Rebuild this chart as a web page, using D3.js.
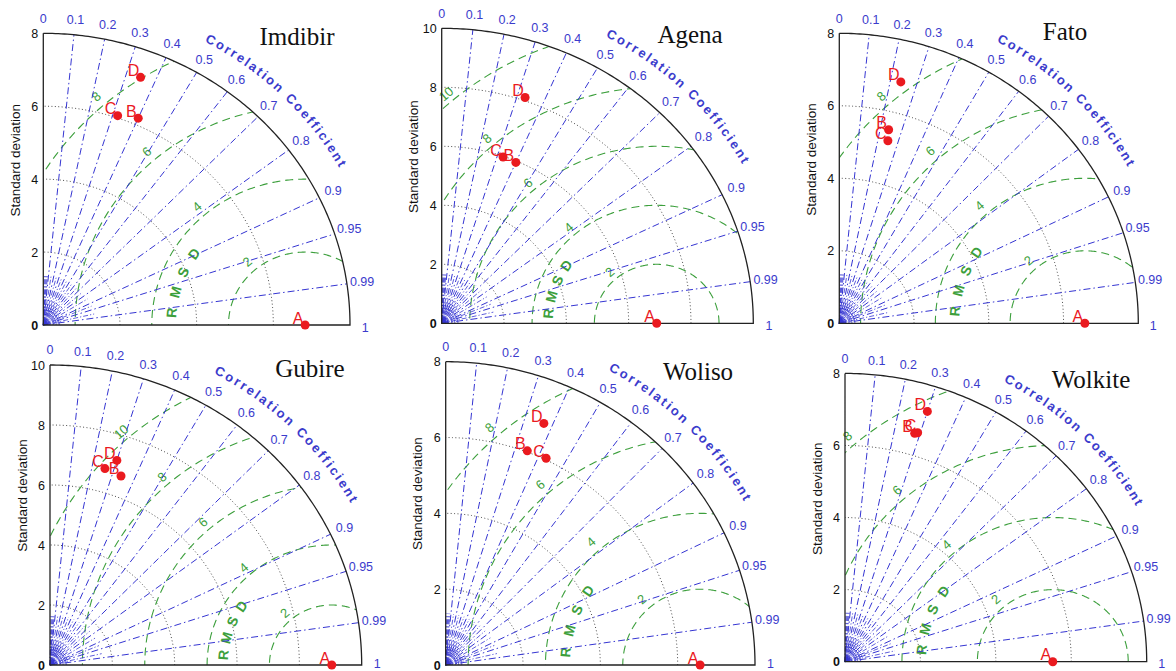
<!DOCTYPE html>
<html>
<head>
<meta charset="utf-8">
<script src="https://cdn.jsdelivr.net/npm/d3@7"></script>
<style>
  body { margin: 0; background: #fff; }
  svg { display: block; }
</style>
</head>
<body>
<svg id="chart" width="1176" height="671"></svg>
<script>
// ---- Data: Taylor diagram statistics per station ----
const stations = ["Imdibir", "Agena", "Fato", "Gubire", "Woliso", "Wolkite"];
const maxStd = [8, 10, 8, 10, 8, 8];
const stdTicks = [[0,2,4,6,8],[0,2,4,6,8,10],[0,2,4,6,8],[0,2,4,6,8,10],[0,2,4,6,8],[0,2,4,6,8]];
const rmsdTicks = [[2,4,6,8],[2,4,6,8,10],[2,4,6,8],[2,4,6,8,10],[2,4,6,8],[2,4,6,8]];
const corrTicks = [0, 0.1, 0.2, 0.3, 0.4, 0.5, 0.6, 0.7, 0.8, 0.9, 0.95, 0.99, 1];
const corrTickLabels = ["0","0.1","0.2","0.3","0.4","0.5","0.6","0.7","0.8","0.9","0.95","0.99","1"];
const seriesNames = ["A", "B", "C", "D"];

// A is the reference (correlation 1)
const stdA  = [6.83, 6.90, 6.57, 9.04, 6.58, 5.51];
const stdB  = [6.19, 5.95, 5.50, 6.70, 6.03, 6.60];
const corrB = [0.40, 0.40, 0.24, 0.34, 0.35, 0.28];
const stdC  = [6.06, 5.97, 5.20, 6.78, 6.04, 6.64];
const corrC = [0.32, 0.33, 0.25, 0.26, 0.43, 0.29];
const stdD  = [7.25, 8.11, 6.86, 7.15, 6.86, 7.28];
const corrD = [0.35, 0.33, 0.24, 0.30, 0.37, 0.30];

// ---- Layout of the six panels (origin, axis lengths, title anchor) ----
const frames = [
  { ox: 43.3,  oy: 325,   rx: 306.7, ry: 291.7, tx: 297,  ty: 45 },
  { ox: 441.7, oy: 323.3, rx: 311.6, ry: 295,   tx: 690,  ty: 43 },
  { ox: 839.3, oy: 323.3, rx: 299,   ry: 290,   tx: 1065, ty: 40 },
  { ox: 50,    oy: 665,   rx: 311.7, ry: 300,   tx: 310,  ty: 377 },
  { ox: 445.7, oy: 665,   rx: 309.3, ry: 303.3, tx: 698,  ty: 380 },
  { ox: 845,   oy: 661.7, rx: 301.7, ry: 288.3, tx: 1091, ty: 388 }
];

const C = {
  blue: "#3535d2",
  blueText: "#3b3bcc",
  green: "#3c9f3c",
  red: "#ea1a1f",
  dots: "#4a4a4a",
  frame: "#222"
};
const SANS = "Liberation Sans, Arial, sans-serif";

const svg = d3.select("#chart");
const defs = svg.append("defs");
const line = d3.line();
const deg = Math.PI / 180;

stations.forEach((name, i) => {
  const f = frames[i];
  const R = maxStd[i];
  const ref = stdA[i];
  const x = d3.scaleLinear().domain([0, R]).range([f.ox, f.ox + f.rx]);
  const y = d3.scaleLinear().domain([0, R]).range([f.oy, f.oy - f.ry]);
  const polar = (s, th) => [x(s * Math.cos(th)), y(s * Math.sin(th))];
  const arcPts = (s, a0, a1, n = 160) =>
    d3.range(n + 1).map(k => polar(s, a0 + (a1 - a0) * k / n));

  const g = svg.append("g").attr("class", "taylor");

  // clip region: the quarter disc of radius R
  const clipId = "clip" + i;
  defs.append("clipPath").attr("id", clipId)
    .append("path")
    .attr("d", line([[x(0), y(0)], ...arcPts(R, 0, Math.PI / 2)]) + "Z");

  // standard deviation arcs (dotted)
  stdTicks[i].filter(s => s > 0 && s < R).forEach(s => {
    g.append("path")
      .attr("d", line(arcPts(s, 0, Math.PI / 2)))
      .attr("fill", "none")
      .attr("stroke", C.dots)
      .attr("stroke-width", 1)
      .attr("stroke-dasharray", "1,2.4");
  });

  // centred RMS difference circles around the reference
  const rmsG = g.append("g").attr("clip-path", `url(#${clipId})`);
  rmsdTicks[i].forEach(r => {
    const pts = d3.range(241).map(k => {
      const t = Math.PI * k / 240;
      return [x(ref + r * Math.cos(t)), y(r * Math.sin(t))];
    });
    rmsG.append("path")
      .attr("d", line(pts))
      .attr("fill", "none")
      .attr("stroke", C.green)
      .attr("stroke-width", 1.1)
      .attr("stroke-dasharray", "8,5");
  });

  // RMS difference value labels
  const labDeg = 131;
  rmsdTicks[i].forEach(r => {
    const rr = r + 0.3;
    const px = x(ref + rr * Math.cos(labDeg * deg));
    const py = y(rr * Math.sin(labDeg * deg));
    g.append("text")
      .attr("transform", `translate(${px},${py}) rotate(${-(labDeg - 90)})`)
      .attr("text-anchor", "middle")
      .attr("dominant-baseline", "central")
      .attr("font-family", SANS)
      .attr("font-size", 13)
      .attr("fill", C.green)
      .text(r);
  });

  // "RMSD" lettering along an arc around the reference
  const rmsLetters = ["R", "M", "S", "D"];
  const rmsAngles = [174.5, 165, 155.5, 146];
  rmsLetters.forEach((ch, k) => {
    const a = rmsAngles[k] * deg;
    const px = x(ref + 3.5 * Math.cos(a));
    const py = y(3.5 * Math.sin(a));
    g.append("text")
      .attr("transform", `translate(${px},${py}) rotate(${-(rmsAngles[k] - 90)})`)
      .attr("text-anchor", "middle")
      .attr("dominant-baseline", "central")
      .attr("font-family", SANS)
      .attr("font-size", 14)
      .attr("font-weight", "bold")
      .attr("fill", C.green)
      .text(ch);
  });

  // dense fan of short rays near the origin
  const fanCorr = [0.02, 0.04, 0.06, 0.08, 0.15, 0.25, 0.35, 0.45, 0.55, 0.65, 0.75, 0.85, 0.925, 0.975];
  fanCorr.forEach(c => {
    const th = Math.acos(c);
    g.append("path")
      .attr("d", line([polar(0, th), polar(R * 0.17, th)]))
      .attr("stroke", C.blue)
      .attr("stroke-width", 0.8)
      .attr("stroke-dasharray", "5,2,1.2,2");
  });
  [0.012, 0.022, 0.032, 0.042, 0.052].forEach(fr => {
    g.append("path")
      .attr("d", line(arcPts(R * fr, 0, Math.PI / 2, 30)))
      .attr("fill", "none")
      .attr("stroke", C.blue)
      .attr("stroke-width", 0.9);
  });
  g.append("path")
    .attr("d", line([[x(0), y(0)], ...arcPts(R * 0.011, 0, Math.PI / 2, 12)]) + "Z")
    .attr("fill", C.blue);

  // correlation rays (dash-dot)
  corrTicks.filter(c => c > 0 && c < 1).forEach(c => {
    const th = Math.acos(c);
    g.append("path")
      .attr("d", line([polar(0, th), polar(R, th)]))
      .attr("stroke", C.blue)
      .attr("stroke-width", 1)
      .attr("stroke-dasharray", "7,3,1.5,3");
  });

  // frame: outer arc plus the two axes
  g.append("path")
    .attr("d", line([[x(0), y(R)], [x(0), y(0)], [x(R), y(0)], ...arcPts(R, 0, Math.PI / 2)]))
    .attr("fill", "none")
    .attr("stroke", C.frame)
    .attr("stroke-width", 1.3);

  // standard deviation axis (left)
  const yAxis = d3.axisLeft(y).tickValues(stdTicks[i]).tickSize(0).tickPadding(5);
  const ya = g.append("g").attr("transform", `translate(${x(0)},0)`).call(yAxis);
  ya.select(".domain").remove();
  ya.selectAll("text")
    .attr("font-family", SANS)
    .attr("font-size", 12.5)
    .attr("fill", "#111")
    .attr("font-weight", d => d === 0 ? "bold" : "normal");

  g.append("text")
    .attr("transform", `translate(${x(0) - 28},${f.oy - f.ry * 0.565}) rotate(-90)`)
    .attr("text-anchor", "middle")
    .attr("dominant-baseline", "central")
    .attr("font-family", SANS)
    .attr("font-size", 13.5)
    .attr("fill", "#111")
    .text("Standard deviation");

  // correlation tick labels around the arc
  corrTicks.forEach((c, k) => {
    const p = polar(R * 1.05, Math.acos(c));
    const py = c === 1 ? Math.min(p[1] + 3, 671 - 7) : p[1];
    g.append("text")
      .attr("x", p[0]).attr("y", py)
      .attr("text-anchor", "middle")
      .attr("dominant-baseline", "central")
      .attr("font-family", SANS)
      .attr("font-size", 12.5)
      .attr("fill", C.blueText)
      .text(corrTickLabels[k]);
  });

  // curved "Correlation Coefficient" title, one glyph at a time along the arc
  const title = "Correlation Coefficient";
  const guide = defs.append("path")
    .attr("d", line(arcPts(R * 1.105, 61.6 * deg, 29.2 * deg, 200)));
  const gnode = guide.node();
  const plen = gnode.getTotalLength();
  const probe = g.append("text")
    .attr("font-family", SANS).attr("font-size", 13).attr("font-weight", "bold");
  const widths = title.split("").map(ch => {
    probe.text(ch === " " ? "n" : ch);
    const w = probe.node().getComputedTextLength();
    return ch === " " ? w * 0.55 : w;
  });
  probe.remove();
  const total = d3.sum(widths);
  const gap = (plen - total) / (title.length - 1);
  let run = 0;
  const ccG = g.append("g")
    .attr("font-family", SANS)
    .attr("font-size", 13)
    .attr("font-weight", "bold")
    .attr("fill", C.blueText);
  title.split("").forEach((ch, k) => {
    const mid = run + widths[k] / 2;
    run += widths[k] + gap;
    if (ch === " ") return;
    const p = gnode.getPointAtLength(mid);
    const p0 = gnode.getPointAtLength(Math.max(0, mid - 1));
    const p1 = gnode.getPointAtLength(Math.min(plen, mid + 1));
    const ang = Math.atan2(p1.y - p0.y, p1.x - p0.x) * 180 / Math.PI;
    ccG.append("text")
      .attr("transform", `translate(${p.x},${p.y}) rotate(${ang})`)
      .attr("text-anchor", "middle")
      .text(ch);
  });

  // station name
  g.append("text")
    .attr("x", f.tx).attr("y", f.ty)
    .attr("text-anchor", "middle")
    .attr("font-family", "Liberation Serif, Times New Roman, serif")
    .attr("font-size", 25)
    .attr("fill", "#111")
    .text(name);

  // model points
  const pts = [
    { key: seriesNames[0], s: stdA[i], c: 1 },
    { key: seriesNames[1], s: stdB[i], c: corrB[i] },
    { key: seriesNames[2], s: stdC[i], c: corrC[i] },
    { key: seriesNames[3], s: stdD[i], c: corrD[i] }
  ];
  pts.forEach(d => {
    const p = polar(d.s, Math.acos(d.c));
    g.append("circle")
      .attr("cx", p[0]).attr("cy", p[1]).attr("r", 4.5)
      .attr("fill", C.red);
    g.append("text")
      .attr("x", p[0] - 7).attr("y", p[1] - 1.5)
      .attr("text-anchor", "middle")
      .attr("font-family", SANS)
      .attr("font-size", 16)
      .attr("fill", C.red)
      .text(d.key);
  });
});
</script>
</body>
</html>
